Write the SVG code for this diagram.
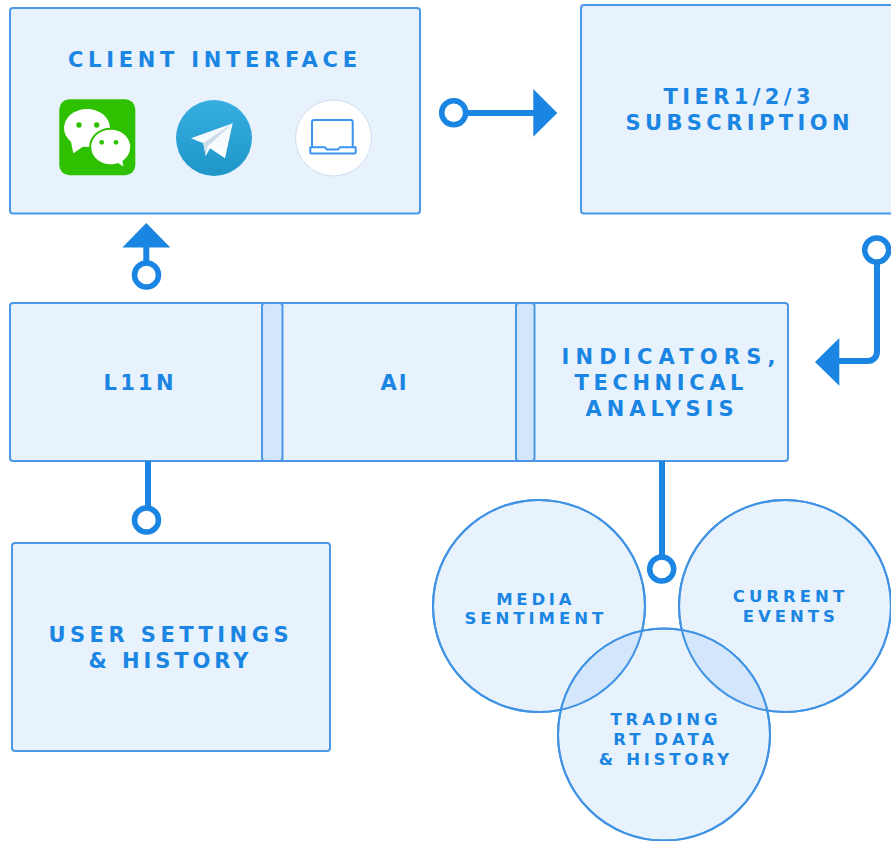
<svg xmlns="http://www.w3.org/2000/svg" width="891" height="841" viewBox="0 0 891 841">
<style>
.box{fill:#e7f2fc;stroke:#4a98e6;stroke-width:2}
.tab{fill:#d3e6fb;stroke:#4a98e6;stroke-width:2}
.lens{fill:#d3e6fb}
.ring{fill:none;stroke:#3f92e4;stroke-width:2}
.t{font-family:"DejaVu Sans","Liberation Sans",sans-serif;font-weight:700;fill:#1a85e2;font-size:21px}
.s{font-size:16.500px}
.line{fill:none;stroke:#1a85e2;stroke-width:6;stroke-linejoin:round}
.node{fill:#fff;stroke:#1a85e2;stroke-width:5.500}
.head{fill:#1a85e2}
</style>
<defs>
<linearGradient id="tg" x1="0" y1="0" x2="0" y2="1"><stop offset="0" stop-color="#37aee2"/><stop offset="1" stop-color="#1e96c8"/></linearGradient>
<linearGradient id="pl" x1="0" y1="0" x2="0" y2="1"><stop offset="0" stop-color="#eff7fc"/><stop offset="1" stop-color="#fff"/></linearGradient>
<clipPath id="cm"><circle cx="539" cy="606" r="106"/></clipPath>
<clipPath id="cc"><circle cx="785" cy="606" r="106"/></clipPath>
</defs>
<g id="client-interface">
<rect class="box" x="10" y="8" width="410" height="205.500" rx="3"/>
<text class="t" x="68" y="66.500" textLength="289">CLIENT INTERFACE</text>
<g id="wechat-icon">
<rect x="59.300" y="99.300" width="76" height="76" rx="10" fill="#2dc100"/>
<ellipse cx="87" cy="128" rx="23" ry="19" fill="#fff"/>
<path d="M71 142L73.300 153.300L84 146Z" fill="#fff"/>
<circle cx="79" cy="125" r="2.700" fill="#2dc100"/>
<circle cx="96.700" cy="125" r="2.700" fill="#2dc100"/>
<ellipse cx="110.700" cy="147" rx="20.500" ry="18.300" fill="#fff" stroke="#2dc100" stroke-width="2"/>
<path d="M118 163L123.500 166.500L122 159Z" fill="#fff"/>
<circle cx="101.700" cy="142.300" r="2.400" fill="#2dc100"/>
<circle cx="116" cy="142.300" r="2.400" fill="#2dc100"/>
</g>
<g id="telegram-icon">
<circle cx="214" cy="138" r="38" fill="url(#tg)"/>
<path d="M232.700 123.300L191 138.300L203.300 143.300L205.700 156L210 148.300L225 158.300Z" fill="url(#pl)"/>
<path d="M232.700 123.300L203.300 143.300L205.700 156L207.500 146.500Z" fill="#c9dcea"/>
</g>
<g id="laptop-icon">
<circle cx="333.500" cy="138" r="38" fill="#fff" stroke="#cfdff0" stroke-width="1"/>
<path d="M312 147.300V122a2 2 0 0 1 2-2H350.700a2 2 0 0 1 2 2V147.300" fill="none" stroke="#3b95f0" stroke-width="2"/>
<path d="M310.300 147.300H325L327 149.500H338L340 147.300H355.700V152a1.500 1.500 0 0 1-1.500 1.500H311.800a1.500 1.500 0 0 1-1.500-1.500Z" fill="none" stroke="#3b95f0" stroke-width="2" stroke-linejoin="round"/>
</g>
</g>
<g id="subscription">
<rect class="box" x="581" y="5" width="320" height="208.500" rx="3"/>
<text class="t" x="663.500" y="103.500" textLength="147">TIER1/2/3</text>
<text class="t" x="625.500" y="129.500" textLength="224">SUBSCRIPTION</text>
</g>
<g id="core">
<rect class="box" x="10" y="303" width="778" height="158" rx="3"/>
<rect class="tab" x="262" y="303" width="20.500" height="158" rx="3"/>
<rect class="tab" x="516" y="303" width="18.500" height="158" rx="3"/>
<text class="t" x="103.500" y="389.500" textLength="70">L11N</text>
<text class="t" x="380.500" y="389.500" textLength="26">AI</text>
<text class="t" x="561.500" y="363.500" textLength="214">INDICATORS,</text>
<text class="t" x="574.500" y="389.500" textLength="169">TECHNICAL</text>
<text class="t" x="585.500" y="415.500" textLength="148">ANALYSIS</text>
</g>
<g id="user-settings">
<rect class="box" x="12" y="543" width="318" height="208" rx="3"/>
<text class="t" x="48.500" y="641.500" textLength="240">USER SETTINGS</text>
<text class="t" x="88.500" y="667.500" textLength="160">&amp; HISTORY</text>
</g>
<g id="media-sentiment">
<circle class="box" cx="539" cy="606" r="106"/>
</g>
<g id="current-events">
<circle class="box" cx="785" cy="606" r="106"/>
</g>
<g id="trading">
<circle class="box" cx="664" cy="734.500" r="106"/>
<g clip-path="url(#cm)"><circle class="lens" cx="664" cy="734.500" r="106"/></g>
<g clip-path="url(#cc)"><circle class="lens" cx="664" cy="734.500" r="106"/></g>
<circle class="ring" cx="539" cy="606" r="106"/>
<circle class="ring" cx="785" cy="606" r="106"/>
<circle class="ring" cx="664" cy="734.500" r="106"/>
<text class="t s" x="610.500" y="725" textLength="107">TRADING</text>
<text class="t s" x="613.200" y="744.500" textLength="101">RT DATA</text>
<text class="t s" x="598.800" y="764.500" textLength="130.500">&amp; HISTORY</text>
</g>
<text class="t s" x="496.200" y="604.500" textLength="75.300">MEDIA</text>
<text class="t s" x="464.500" y="624.200" textLength="138.700">SENTIMENT</text>
<text class="t s" x="732.800" y="602.200" textLength="111.400">CURRENT</text>
<text class="t s" x="742.800" y="621.500" textLength="92">EVENTS</text>
<g id="connectors">
<path class="line" d="M454 113H535"/>
<circle class="node" cx="453.700" cy="112.700" r="12"/>
<path class="head" d="M533.300 89L557.300 113L533.300 136.700Z"/>
<path class="line" d="M877 250V352a9 9 0 0 1-9 9H838"/>
<circle class="node" cx="876.700" cy="250" r="12"/>
<path class="head" d="M815 362L839.300 338V385.700Z"/>
<path class="line" d="M146.300 262V245"/>
<circle class="node" cx="146.500" cy="275" r="12"/>
<path class="head" d="M146.300 223L170.300 247.500H122.300Z"/>
<path class="line" d="M148 461V507"/>
<circle class="node" cx="146.500" cy="520" r="12"/>
<path class="line" d="M662 461V556"/>
<circle class="node" cx="661.700" cy="569" r="12"/>
</g>
</svg>
